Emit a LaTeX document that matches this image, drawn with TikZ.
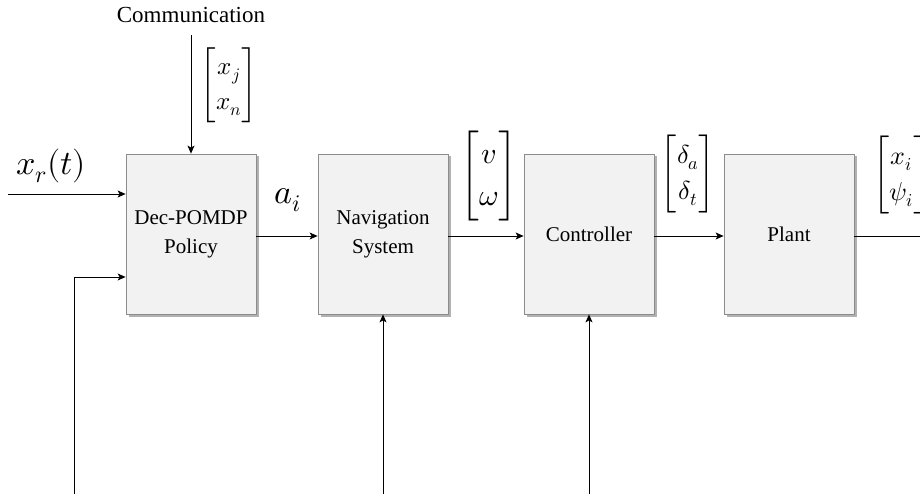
\documentclass[tikz,border=0pt]{standalone}
\usepackage{amsmath}
\usepackage{fontspec}
\usepackage{unicode-math}
\setmainfont{Liberation Serif}
\setmathfont{Latin Modern Math}
\usetikzlibrary{arrows.meta,shadows}
\begin{document}
\begin{tikzpicture}[x=1pt,y=-1pt,
  block/.style={draw=black!45, line width=0.8pt, fill=black!5, minimum width=130pt, minimum height=160pt,
    inner sep=0pt, align=center, font=\fontsize{21}{29}\selectfont,
    drop shadow={shadow xshift=2.5pt, shadow yshift=-2.5pt, fill=black!30, opacity=1}},
  sig/.style={line width=0.8pt, -{Stealth[length=8pt,width=7pt,inset=2pt]}},
  wire/.style={line width=0.8pt},
  lab/.style={inner sep=0pt},
  vec/.style={inner sep=0pt, font={\fontsize{#1}{#1}\selectfont\renewcommand\arraystretch{1.4}}}]
\useasboundingbox (0,0) rectangle (920,494);

% processing chain
\node[block] (pol)  at (191,234) {Dec-POMDP\\Policy};
\node[block] (nav)  at (383,234) {Navigation\\System};
\node[block] (ctl)  at (589,234) {Controller};
\node[block] (pl)   at (789,234) {Plant};

% external inputs and outputs
\coordinate (xr)   at (8,194);
\coordinate (com)  at (191,35);
\coordinate (fb)   at (74,494);
\coordinate (nb)   at (383,494);
\coordinate (cb)   at (589,494);
\coordinate (out)  at (920,236);

\node[lab, font=\fontsize{23}{26}\selectfont] (comlab) at (191,15) {Communication};
\node[lab, font=\fontsize{34}{38}\selectfont] (xrlab) at (51,166) {$x_r(t)$};
\node[lab, font=\fontsize{34}{38}\selectfont] (ailab) at (288,200) {$a_i$};
\node[vec=25] (xjn) at (229,85) {$\begin{bmatrix} x_j\\ x_n\end{bmatrix}$};
\node[vec=30] (vw) at (489,176) {$\begin{bmatrix} v\\ \omega\end{bmatrix}$};
\node[vec=26] (dd) at (688,174) {$\begin{bmatrix} \delta_a\\ \delta_t\end{bmatrix}$};
\node[vec=26, anchor=west] (xp) at (872,175) {$\begin{bmatrix} x_i\\ \psi_i\end{bmatrix}$};

% connectors
\draw[sig] (com) -- (pol.north);
\draw[sig] (xr) -- (xr -| pol.west);
\draw[sig] (pol.east |- 0,236) -- (nav.west |- 0,236);
\draw[sig] (nav.east |- 0,236) -- (ctl.west |- 0,236);
\draw[sig] (ctl.east |- 0,236) -- (pl.west |- 0,236);
\draw[wire] (pl.east |- 0,236) -- (out);
\draw[sig] (fb) |- (pol.west |- 0,277);
\draw[sig] (nb) -- (nav.south);
\draw[sig] (cb) -- (ctl.south);
\end{tikzpicture}
\end{document}
